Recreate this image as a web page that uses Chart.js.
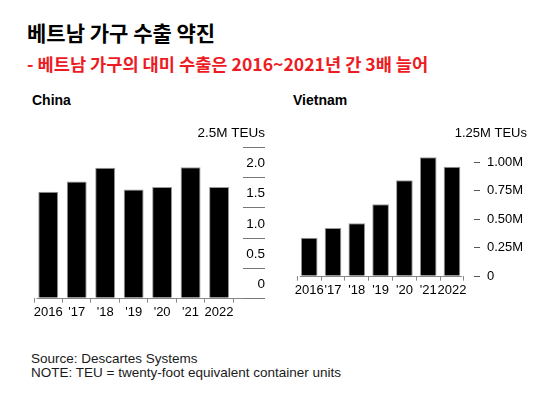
<!DOCTYPE html>
<html>
<head>
<meta charset="utf-8">
<script src="https://cdn.jsdelivr.net/npm/chart.js@4.4.1/dist/chart.umd.min.js"></script>
<style>
  html, body { margin: 0; padding: 0; background: #fff; }
  body { width: 559px; height: 394px; position: relative; overflow: hidden; font-family: "Liberation Sans", Arial, sans-serif; }
  .t { position: absolute; white-space: nowrap; }
  #title { left: 27px; top: 22px; font: bold 21px "Noto Sans CJK KR", sans-serif; line-height: 20px; color: #000; }
  #sub { left: 27px; top: 54px; font: bold 17.6px "Noto Sans CJK KR", sans-serif; line-height: 20px; color: #ed1c24; }
  .panel { font-weight: bold; font-size: 14px; line-height: 20px; top: 90px; color: #000; }
  .foot { left: 31px; font-size: 13.5px; line-height: 14px; color: #1a1a1a; }
  canvas { position: absolute; }
</style>
</head>
<body>
<div class="t" id="title">베트남 가구 수출 약진</div>
<div class="t" id="sub">- 베트남 가구의 대미 수출은 2016~2021년 간 3배 늘어</div>
<div class="t panel" style="left:32px">China</div>
<div class="t panel" style="left:293px">Vietnam</div>
<canvas id="china" style="left:0;top:120px" width="280" height="210"></canvas>
<canvas id="vietnam" style="left:280px;top:120px" width="279" height="210"></canvas>
<div class="t foot" style="top:352px">Source: Descartes Systems</div>
<div class="t foot" style="top:366px">NOTE: TEU = twenty-foot equivalent container units</div>

<script>
// data, millions of TEUs
const years = ['2016', "'17", "'18", "'19", "'20", "'21", '2022'];
const chinaTEU = [1.76, 1.93, 2.16, 1.80, 1.84, 2.17, 1.84];
const vietnamTEU = [0.333, 0.418, 0.46, 0.626, 0.837, 1.038, 0.956];

const chinaTicks = [0, 0.5, 1, 1.5, 2, 2.5];
const chinaTickLabels = ['0', '0.5', '1.0', '1.5', '2.0', '2.5M TEUs'];
const vietnamTicks = [0, 0.25, 0.5, 0.75, 1, 1.25];
const vietnamTickLabels = ['0', '0.25M', '0.50M', '0.75M', '1.00M', '1.25M TEUs'];

const FONT = '"Liberation Sans", Arial, sans-serif';

// baseline + right side value axis, Bloomberg style
const chinaAxis = {
    id: 'chinaAxis',
    afterDatasetsDraw(chart) {
        const { ctx, scales: { x, y } } = chart;
        ctx.save();
        const y0 = Math.round(y.getPixelForValue(0)) + 0.5;
        ctx.strokeStyle = '#888';
        ctx.lineWidth = 1;
        ctx.beginPath();
        ctx.moveTo(x.left + 2.5, y0);
        ctx.lineTo(265, y0);
        ctx.stroke();
        ctx.font = '13.5px ' + FONT;
        ctx.fillStyle = '#000';
        ctx.textAlign = 'right';
        ctx.textBaseline = 'middle';
        chinaTicks.forEach((v, i) => {
            const py = Math.round(y.getPixelForValue(v)) + 0.5;
            ctx.strokeStyle = '#777';
            ctx.beginPath();
            ctx.moveTo(243, py);
            ctx.lineTo(265, py);
            ctx.stroke();
            ctx.fillText(chinaTickLabels[i], 265, py - 14.5);
        });
        ctx.restore();
    }
};

const vietnamAxis = {
    id: 'vietnamAxis',
    afterDatasetsDraw(chart) {
        const { ctx, scales: { x, y } } = chart;
        ctx.save();
        const y0 = Math.round(y.getPixelForValue(0)) + 0.5;
        ctx.strokeStyle = '#888';
        ctx.lineWidth = 1;
        ctx.beginPath();
        ctx.moveTo(x.left + 2.5, y0);
        ctx.lineTo(x.right - 2, y0);
        ctx.stroke();
        ctx.font = '13px ' + FONT;
        ctx.fillStyle = '#000';
        ctx.textBaseline = 'middle';
        vietnamTicks.forEach((v, i) => {
            const py = Math.round(y.getPixelForValue(v)) + 0.5;
            if (i === vietnamTicks.length - 1) {
                ctx.textAlign = 'right';
                ctx.fillText(vietnamTickLabels[i], 247, py);
                return;
            }
            ctx.strokeStyle = '#555';
            ctx.beginPath();
            ctx.moveTo(194, py);
            ctx.lineTo(200, py);
            ctx.stroke();
            ctx.textAlign = 'left';
            ctx.fillText(vietnamTickLabels[i], 207, py);
        });
        ctx.restore();
    }
};

function makeChart(id, values, max, padding, plugin) {
    return new Chart(document.getElementById(id), {
        type: 'bar',
        data: {
            labels: years,
            datasets: [{
                data: values,
                backgroundColor: '#000',
                borderColor: '#999',
                borderWidth: 1,
                barPercentage: 0.7,
                categoryPercentage: 1
            }]
        },
        options: {
            responsive: false,
            animation: false,
            events: [],
            layout: { padding: padding },
            plugins: { legend: { display: false }, tooltip: { enabled: false } },
            scales: {
                x: {
                    afterFit: s => { s.height = 30; },
                    grid: { drawOnChartArea: false, drawTicks: true, tickLength: 5, color: '#888' },
                    border: { display: false },
                    ticks: { font: { family: FONT, size: 13 }, color: '#000', padding: 2, maxRotation: 0, autoSkip: false }
                },
                y: { display: false, min: 0, max: max }
            }
        },
        plugins: [plugin]
    });
}

makeChart('china', chinaTEU, 2.5, { left: 34, right: 46.7, top: 27.3, bottom: 2.3 }, chinaAxis);
makeChart('vietnam', vietnamTEU, 1.25, { left: 17.3, right: 95.1, top: 13.2, bottom: 24.3 }, vietnamAxis);
</script>
</body>
</html>
